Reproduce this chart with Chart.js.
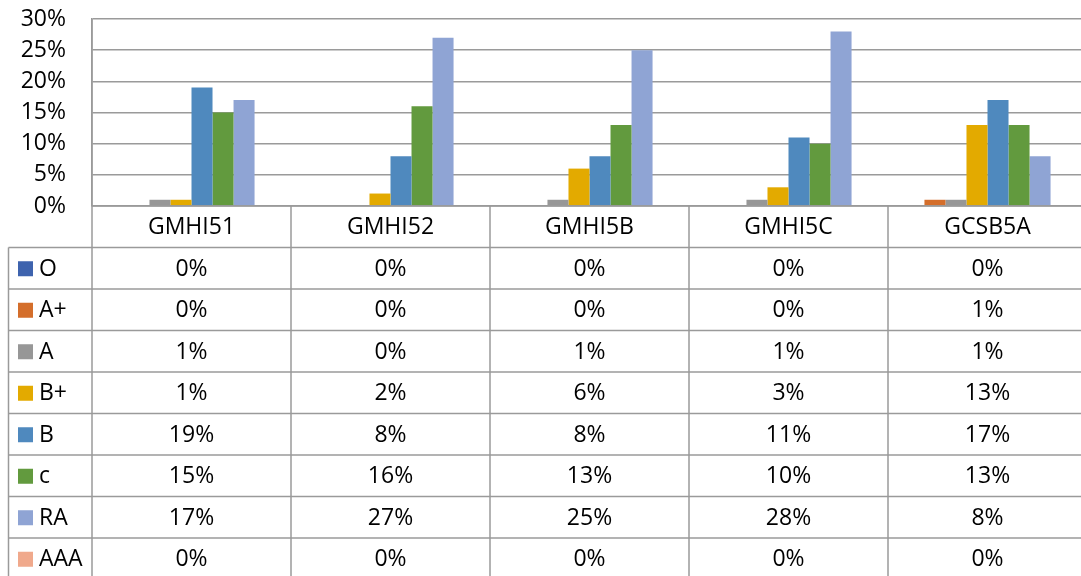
<!DOCTYPE html>
<html>
<head>
<meta charset="utf-8">
<script src="https://cdn.jsdelivr.net/npm/chart.js@4"></script>
<style>
  html, body { margin: 0; padding: 0; background: #fff; overflow: hidden; }
  #wrap { width: 1088px; height: 576px; }
</style>
</head>
<body>
<div id="wrap"><canvas id="gradeChart" width="1088" height="576"></canvas></div>
<script>
// data (percent)
const categories = ['GMHI51', 'GMHI52', 'GMHI5B', 'GMHI5C', 'GCSB5A'];
const seriesNames = ['O', 'A+', 'A', 'B+', 'B', 'c', 'RA', 'AAA'];
const gradeO   = [0, 0, 0, 0, 0];
const gradeAp  = [0, 0, 0, 0, 1];
const gradeA   = [1, 0, 1, 1, 1];
const gradeBp  = [1, 2, 6, 3, 13];
const gradeB   = [19, 8, 8, 11, 17];
const gradeC   = [15, 16, 13, 10, 13];
const gradeRA  = [17, 27, 25, 28, 8];
const gradeAAA = [0, 0, 0, 0, 0];
const yTicks = [0, 5, 10, 15, 20, 25, 30];

const seriesData = [gradeO, gradeAp, gradeA, gradeBp, gradeB, gradeC, gradeRA, gradeAAA];
const seriesColors = ['#3E63AE', '#D46E2B', '#979797', '#E3AA00', '#4F89BE', '#629A3E', '#8FA4D4', '#F0A98C'];

const FONT = "'Open Sans', sans-serif";
const FONT_SIZE = 23;
const LINE = '#9a9a9a';

// draws the data table under the plot, lined up with the category scale
const dataTable = {
    id: 'dataTable',
    afterDraw(chart) {
        const ctx = chart.ctx;
        const area = chart.chartArea;
        const x = chart.scales.x;
        const colW = (area.right - area.left) / categories.length;
        const headTop = area.bottom;
        const rowTop = 247.5;
        const rowH = 41.5;
        const tableBottom = rowTop + rowH * seriesNames.length;
        const leftEdge = 8.5;

        ctx.save();
        ctx.strokeStyle = LINE;
        ctx.lineWidth = 1.5;

        // horizontal lines
        ctx.beginPath();
        ctx.moveTo(area.left, headTop);
        ctx.lineTo(area.right, headTop);
        for (let r = 0; r <= seriesNames.length; r++) {
            const y = rowTop + r * rowH;
            ctx.moveTo(leftEdge, y);
            ctx.lineTo(area.right, y);
        }
        // vertical lines
        ctx.moveTo(leftEdge, rowTop);
        ctx.lineTo(leftEdge, tableBottom);
        for (let i = 0; i <= categories.length; i++) {
            const px = area.left + i * colW;
            ctx.moveTo(px, i === 0 ? area.top : headTop);
            ctx.lineTo(px, tableBottom);
        }
        ctx.stroke();

        ctx.fillStyle = '#000';
        ctx.font = FONT_SIZE + 'px ' + FONT;
        ctx.textBaseline = 'middle';
        ctx.textAlign = 'center';

        // header
        categories.forEach((cat, i) => {
            ctx.fillText(cat, x.getPixelForValue(i), (headTop + rowTop) / 2 + 1);
        });

        // rows
        chart.data.datasets.forEach((ds, r) => {
            const cy = rowTop + r * rowH + rowH / 2 + 1;
            ctx.fillStyle = ds.backgroundColor;
            ctx.fillRect(18, cy - 8, 15, 15);
            ctx.fillStyle = '#000';
            ctx.textAlign = 'left';
            ctx.fillText(ds.label, 39, cy);
            ctx.textAlign = 'center';
            ds.data.forEach((v, i) => {
                ctx.fillText(v + '%', x.getPixelForValue(i), cy);
            });
        });
        ctx.restore();
    }
};

const ctx = document.getElementById('gradeChart').getContext('2d');
new Chart(ctx, {
    type: 'bar',
    data: {
        labels: categories,
        datasets: seriesNames.map((name, i) => ({
            label: name,
            data: seriesData[i],
            backgroundColor: seriesColors[i],
            borderWidth: 0
        }))
    },
    options: {
        responsive: false,
        animation: false,
        categoryPercentage: 0.845,
        barPercentage: 1.0,
        layout: { padding: { top: 19, bottom: 370, left: 0, right: 1 } },
        plugins: {
            legend: { display: false },
            tooltip: { enabled: false }
        },
        scales: {
            x: { display: false },
            y: {
                min: 0,
                max: 30,
                afterFit: scale => {
                    scale.width = 92;
                    scale.paddingTop = 0;
                    scale.paddingBottom = 0;
                },
                afterBuildTicks: scale => { scale.ticks = yTicks.map(v => ({ value: v })); },
                ticks: {
                    padding: 26,
                    color: '#000',
                    font: { family: FONT, size: FONT_SIZE },
                    callback: v => v + '%'
                },
                grid: { color: LINE, lineWidth: 1.5, drawTicks: false },
                border: { display: true, color: LINE, width: 1.5 }
            }
        }
    },
    plugins: [dataTable]
});
</script>
</body>
</html>
